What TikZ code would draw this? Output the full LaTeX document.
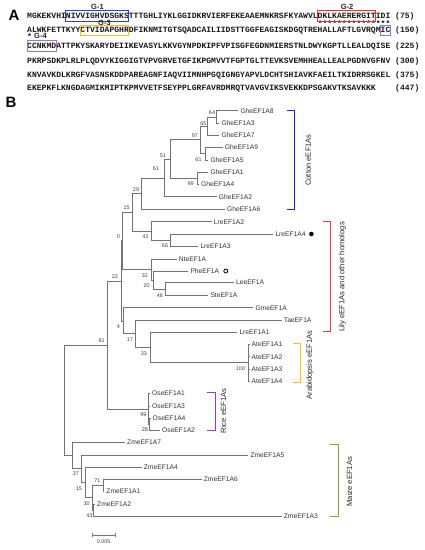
\documentclass[tikz,border=0pt]{standalone}
\usepackage{fontspec}
\setmainfont{Liberation Sans}
\newfontfamily\seqfont{Liberation Mono}
\usepackage{tikz}
\usetikzlibrary{positioning,arrows.meta}

\definecolor{gblue}{RGB}{45,60,220}
\definecolor{gred}{RGB}{240,45,45}
\definecolor{ggold}{RGB}{255,190,20}
\definecolor{gpurple}{RGB}{165,110,205}
\definecolor{cotton}{RGB}{30,30,230}
\definecolor{lily}{RGB}{240,60,60}
\definecolor{arab}{RGB}{255,192,0}
\definecolor{rice}{RGB}{150,60,195}
\definecolor{maize}{RGB}{120,170,60}
\definecolor{branch}{RGB}{115,115,115}

% width of one residue
\def\seqcw{4.843}

\begin{document}
\begin{tikzpicture}[
        x=1pt, y=-1pt,
        % define styles
        seq/.style={anchor=base west, inner sep=0pt, text=black!90,
            font=\seqfont\bfseries\fontsize{8.07}{9}\selectfont},
        panel/.style={font=\bfseries\fontsize{15}{16}\selectfont, inner sep=0pt},
        glab/.style={font=\bfseries\fontsize{7.5}{8}\selectfont, inner sep=0pt, text=black!85},
        gbox/.style={line width=0.8pt},
        tree/.style={draw=branch, line width=0.7pt},
        leaf/.style={font=\fontsize{6.7}{8}\selectfont, inner sep=1pt, text=black!80},
        bs/.style={font=\fontsize{5.4}{6}\selectfont, inner sep=0pt, text=black!75},
        brk/.style={line width=1pt},
        grp/.style={rotate=90, font=\fontsize{7.6}{9}\selectfont, inner sep=0pt, text=black!85}
    ]
    \useasboundingbox (0,0) rectangle (424,550);

    % panel letters
    \node[panel] (pA) at (14,15) {A};
    \node[panel] (pB) at (11,102) {B};

    % protein sequence, 75 residues per row
    \foreach \i/\y/\s/\n in {
        1/18.6/MGKEKVHINIVVIGHVDSGKSTTTGHLIYKLGGIDKRVIERFEKEAAEMNKRSFKYAWVLDKLKAERERGITIDI/(75),
        2/32.6/ALWKFETTKYYCTVIDAPGHRDFIKNMITGTSQADCAILIIDSTTGGFEAGISKDGQTREHALLAFTLGVRQMIC/(150),
        3/48.3/CCNKMDATTPKYSKARYDEIIKEVASYLKKVGYNPDKIPFVPISGFEGDNMIERSTNLDWYKGPTLLEALDQISE/(225),
        4/63.6/PKRPSDKPLRLPLQDVYKIGGIGTVPVGRVETGFIKPGMVVTFGPTGLTTEVKSVEMHHEALLEALPGDNVGFNV/(300),
        5/77.1/KNVAVKDLKRGFVASNSKDDPAREAGNFIAQVIIMNHPGQIGNGYAPVLDCHTSHIAVKFAEILTKIDRRSGKEL/(375),
        6/90.1/EKEPKFLKNGDAGMIKMIPTKPMVVETFSEYPPLGRFAVRDMRQTVAVGVIKSVEKKDPSGAKVTKSAVKKK/(447)}
    {
        \node[seq] (seq\i) at (27,\y) {\s};
        \node[seq] (num\i) at (395,\y) {\n};
    }

    % conserved residues
    \node[seq] (stars) at ({27+60*\seqcw},26.3) {***************};
    \node[seq] (star4) at (27,39.6) {*};

    % G motifs
    \draw[gbox, gblue] ({27+8*\seqcw},10.8) rectangle ({27+21*\seqcw},21);
    \draw[gbox, gred] ({27+60*\seqcw},10.8) rectangle ({27+72*\seqcw},21);
    \draw[gbox, ggold] ({27+11*\seqcw},25.5) rectangle ({27+21*\seqcw},35);
    \draw[gbox, gpurple] ({27+73*\seqcw},25.5) rectangle ({27+75*\seqcw},35);
    \draw[gbox, gpurple] (27,40.8) rectangle ({27+6*\seqcw},51);
    \node[glab] (g1) at (97.5,7) {G-1};
    \node[glab] (g2) at (347,7) {G-2};
    \node[glab] (g3) at (104.5,22.8) {G-3};
    \node[glab, anchor=west] (g4) at (34,36) {G-4};

    % inner nodes of the tree
    \foreach \n/\x/\y in {n64/216.7/117, n65/207.3/126, n61a/205/153.7, n97/200/139.8,
        n99a/197.3/178.3, n51/170/159, n61b/164/177.9, n29/141.7/193.3,
        n66/170.7/240, n42/151.7/230.9, n15/132.3/212.1,
        n46/165.7/289.3, n20/153.3/280.2, n32/151.7/269.6, n0/122.3/240.8,
        nAt/248.3/362.7, n33/150/347.5, n17/135.7/333.8, n4/123.3/321, n22/121/281,
        n28/149.3/424.2, nRi/148.3/409, n91/107.3/345,
        n71/103.3/485.5, n43/93.3/510, n30/92.3/497.7, n15m/85/482.5,
        n37/81/468.8, nMz/72.7/455.7, root/64.3/400.4}
        \coordinate (\n) at (\x,\y);

    % leaves: end of branch and name
    \foreach \n/\x/\y/\t in {gA8/238.3/110.7/GheEF1A8, gA3/219.3/123.3/GheEF1A3,
        gA7/219.3/135/GheEF1A7, gA9/222.7/147.3/GheEF1A9, gA5/208.3/160/GheEF1A5,
        gA1/208.3/172.3/GheEF1A1, gA4/199/184.3/GheEF1A4, gA2/216.7/196.7/GheEF1A2,
        gA6/225/209/GheEF1A6, lA2/211.7/221.7/LreEF1A2, lA4/273.3/234/LreEF1A4,
        lA3/198.3/246/LreEF1A3, nte/176.7/259/NteEF1A, phe/188.3/271/PheEF1A,
        lee/234/282.7/LeeEF1A, ste/208.3/295.3/SteEF1A, gme/253.3/307.7/GmeEF1A,
        tae/281.7/320/TaeEF1A, lA1/237.3/332.3/LreEF1A1,
        aA1/249.5/344.3/AteEF1A1, aA2/249.5/356.7/AteEF1A2,
        aA3/249.5/369/AteEF1A3, aA4/249.5/381/AteEF1A4,
        oA1/150/393.3/OseEF1A1, oA3/150/406/OseEF1A3,
        oA4/150.5/418.3/OseEF1A4, oA2/160/430/OseEF1A2,
        zA7/125/442.7/ZmeEF1A7, zA5/248.3/455/ZmeEF1A5, zA4/141.7/467.3/ZmeEF1A4,
        zA6/201.7/479.3/ZmeEF1A6, zA1/104.3/491.7/ZmeEF1A1,
        zA2/95/504/ZmeEF1A2, zA3/281.7/516/ZmeEF1A3}
    {
        \coordinate (\n) at (\x,\y);
        \node[leaf, right=1pt of \n] (t\n) {\t};
    }

    % branches
    \foreach \p/\c in {n64/gA8, n64/gA3, n65/n64, n65/gA7, n61a/gA9, n61a/gA5,
        n97/n65, n97/n61a, n99a/gA1, n99a/gA4, n51/n97, n51/n99a,
        n61b/n51, n61b/gA2, n29/n61b, n29/gA6,
        n66/lA4, n66/lA3, n42/lA2, n42/n66, n15/n29, n15/n42,
        n46/lee, n46/ste, n20/phe, n20/n46, n32/nte, n32/n20, n0/n15, n0/n32,
        nAt/aA1, nAt/aA2, nAt/aA3, nAt/aA4, n33/lA1, n33/nAt,
        n17/tae, n17/n33, n4/gme, n4/n17, n22/n0, n22/n4,
        n28/oA4, n28/oA2, nRi/oA1, nRi/oA3, nRi/n28, n91/n22, n91/nRi,
        n71/zA6, n71/zA1, n43/zA2, n43/zA3, n30/n71, n30/n43,
        n15m/zA4, n15m/n30, n37/zA5, n37/n15m, nMz/zA7, nMz/n37,
        root/n91, root/nMz}
        \draw[tree] (\p) |- (\c);

    % bootstrap values
    \foreach \v/\x/\y in {64/212/112.7, 65/203.3/123.3, 97/195/135.7, 61/198.5/160,
        51/163/156, 99/190.7/184, 61/156/168.3, 29/136/189.3, 15/126.7/207.3,
        42/145.7/236.7, 66/165/246, 0/118.3/236.7, 32/145/276, 20/146.7/286,
        46/160/295.7, 22/115/276.7, 4/118.3/326.7, 17/130/339.3, 33/144/353.3,
        100/240.5/369, 91/101.7/340.7, 99/143.3/415, 28/145/430,
        71/97.3/480.7, 37/76/473.3, 15/79/488.3, 30/86.7/503.3, 43/89.3/516}
        \node[bs] at (\x,\y) {\v};

    % markers
    \node[circle, fill=black, inner sep=0pt, minimum size=4.6pt, right=2pt of tlA4] (dotA4) {};
    \node[circle, draw=black, line width=0.8pt, inner sep=0pt, minimum size=4pt, right=3pt of tphe] (ringPhe) {};

    % clade brackets
    \draw[brk, cotton] (287.3,110) -- (294,110) -- (294,209.3) -- (287.3,209.3);
    \draw[brk, lily] (322.7,221.7) -- (330.7,221.7) -- (330.7,331.7) -- (322.7,331.7);
    \draw[brk, arab] (293.3,343.3) -- (300.7,343.3) -- (300.7,382.3) -- (293.3,382.3);
    \draw[brk, rice] (206.7,392.3) -- (215,392.3) -- (215,430) -- (206.7,430);
    \draw[brk, maize] (330,444) -- (338.3,444) -- (338.3,516.7) -- (330,516.7);
    \node[grp] (lCotton) at (308.3,160) {Cotton eEF1As};
    \node[grp] (lLily) at (342.3,277) {Lily eEF1As and other homologs};
    \node[grp] (lArab) at (310,365) {Arabidopsis eEF1As};
    \node[grp] (lRice) at (223.3,411) {Rice eEF1As};
    \node[grp] (lMaize) at (349.3,481.7) {Maize eEF1As};

    % scale bar
    \coordinate (sbL) at (91.7,535);
    \coordinate (sbR) at (115.7,535);
    \draw[tree, {Bar[width=4pt]}-{Bar[width=4pt]}] (sbL) -- (sbR);
    \node[bs] (sbT) at (103.7,541.5) {0.005};
\end{tikzpicture}
\end{document}
